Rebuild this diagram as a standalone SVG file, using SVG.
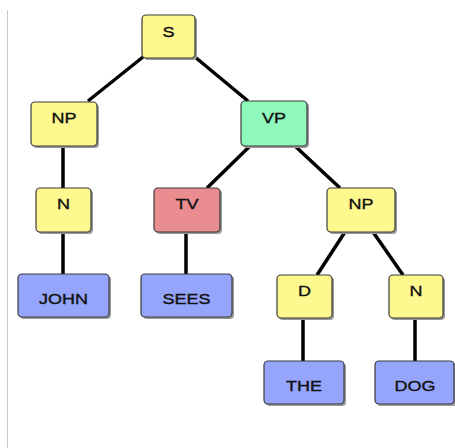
<svg xmlns="http://www.w3.org/2000/svg" width="455" height="448" viewBox="0 0 455 448">
<style>
.box{stroke:#3a3a3a;stroke-width:1.2}
.sh{fill:#9a9a9a}
.y{fill:#fdf98f}
.g{fill:#8ff8bb}
.r{fill:#e98d91}
.b{fill:#94a5fb}
.t{font-family:"Liberation Sans",Arial,sans-serif;font-size:15px;fill:#111;stroke:#111;stroke-width:0.35;text-anchor:middle}
.e{stroke:#000;stroke-width:3.5;fill:none}
</style>
<rect width="455" height="448" fill="#fff"/>
<line x1="7.5" y1="10" x2="7.5" y2="448" stroke="#c8c8c8" stroke-width="1"/>
<g id="connectors">
<line class="e" x1="143" y1="57" x2="88" y2="101"/>
<line class="e" x1="195" y1="57" x2="248" y2="101"/>
<line class="e" x1="63" y1="146" x2="63" y2="188"/>
<line class="e" x1="63" y1="232" x2="63" y2="274"/>
<line class="e" x1="250" y1="146" x2="207" y2="188"/>
<line class="e" x1="295" y1="146" x2="340" y2="188"/>
<line class="e" x1="186" y1="232" x2="186" y2="274"/>
<line class="e" x1="345" y1="232" x2="317" y2="275"/>
<line class="e" x1="373" y1="232" x2="403" y2="275"/>
<line class="e" x1="303" y1="318" x2="303" y2="361"/>
<line class="e" x1="415" y1="318" x2="415" y2="361"/>
</g>
<g id="S"><rect class="sh" x="144" y="17" width="53" height="43" rx="4"/><rect class="box y" x="142" y="15" width="53" height="43" rx="4"/><text class="t" transform="translate(168.5,37) scale(1.2,1)">S</text></g>
<g id="NP1"><rect class="sh" x="33" y="104" width="66" height="44" rx="4"/><rect class="box y" x="31" y="102" width="66" height="44" rx="4"/><text class="t" transform="translate(64,123) scale(1.2,1)">NP</text></g>
<g id="VP"><rect class="sh" x="243" y="103" width="66" height="45" rx="4"/><rect class="box g" x="241" y="101" width="66" height="45" rx="4"/><text class="t" transform="translate(274,123) scale(1.2,1)">VP</text></g>
<g id="N1"><rect class="sh" x="38" y="190" width="55" height="44" rx="4"/><rect class="box y" x="36" y="188" width="55" height="44" rx="4"/><text class="t" transform="translate(63.5,209) scale(1.2,1)">N</text></g>
<g id="TV"><rect class="sh" x="156" y="190" width="66" height="44" rx="4"/><rect class="box r" x="154" y="188" width="66" height="44" rx="4"/><text class="t" transform="translate(187,209) scale(1.2,1)">TV</text></g>
<g id="NP2"><rect class="sh" x="329" y="190" width="68" height="44" rx="4"/><rect class="box y" x="327" y="188" width="68" height="44" rx="4"/><text class="t" transform="translate(361,209) scale(1.2,1)">NP</text></g>
<g id="JOHN"><rect class="sh" x="20" y="276" width="91" height="43" rx="4"/><rect class="box b" x="18" y="274" width="91" height="43" rx="4"/><text class="t" transform="translate(63.5,304) scale(1.2,1)">JOHN</text></g>
<g id="SEES"><rect class="sh" x="143" y="276" width="91" height="43" rx="4"/><rect class="box b" x="141" y="274" width="91" height="43" rx="4"/><text class="t" transform="translate(186.5,304) scale(1.2,1)">SEES</text></g>
<g id="D"><rect class="sh" x="279" y="277" width="55" height="43" rx="4"/><rect class="box y" x="277" y="275" width="55" height="43" rx="4"/><text class="t" transform="translate(304.5,296) scale(1.2,1)">D</text></g>
<g id="N2"><rect class="sh" x="391" y="277" width="54" height="43" rx="4"/><rect class="box y" x="389" y="275" width="54" height="43" rx="4"/><text class="t" transform="translate(416,296) scale(1.2,1)">N</text></g>
<g id="THE"><rect class="sh" x="266" y="363" width="80" height="43" rx="4"/><rect class="box b" x="264" y="361" width="80" height="43" rx="4"/><text class="t" transform="translate(304,391) scale(1.2,1)">THE</text></g>
<g id="DOG"><rect class="sh" x="377" y="363" width="80" height="43" rx="4"/><rect class="box b" x="375" y="361" width="79" height="43" rx="4"/><text class="t" transform="translate(415,391) scale(1.2,1)">DOG</text></g>
</svg>
